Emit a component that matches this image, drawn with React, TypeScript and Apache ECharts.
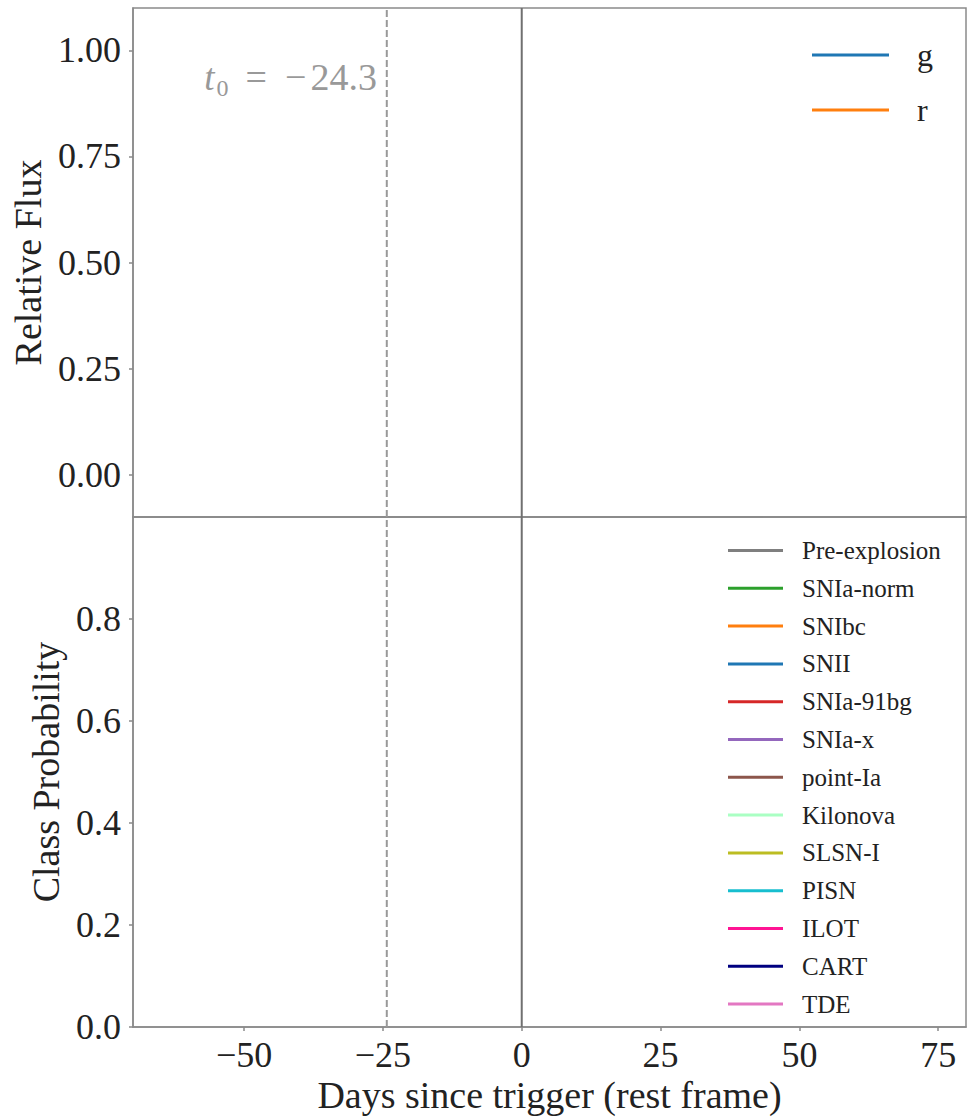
import React, { useEffect, useRef } from "react";
import * as echarts from "echarts";

// ---- data ----
const bandNames = ["g", "r"];
const bandColors = ["#1f77b4", "#ff7f0e"];
const classNames = [
  "Pre-explosion", "SNIa-norm", "SNIbc", "SNII", "SNIa-91bg", "SNIa-x",
  "point-Ia", "Kilonova", "SLSN-I", "PISN", "ILOT", "CART", "TDE",
];
const classColors = [
  "#7f7f7f", "#2ca02c", "#ff7f0e", "#1f77b4", "#d62728", "#9467bd",
  "#8c564b", "#aaffc3", "#bcbd22", "#17becf", "#ff1493", "#000080", "#e377c2",
];
const dayRange = [-70, 80];
const dayTicks = [-50, -25, 0, 25, 50, 75];
const fluxRange = [-0.1, 1.1];
const fluxTicks = [0, 0.25, 0.5, 0.75, 1.0];
const probRange = [0, 1];
const probTicks = [0, 0.2, 0.4, 0.6, 0.8];
const t0 = -24.3;
const triggerDay = 0;

const FONT = "Liberation Serif";
const FRAME = "#8a8a8a";

export default function App() {
  const ref = useRef<HTMLDivElement>(null);
  useEffect(() => {
    if (!ref.current) return;
    const chart = echarts.init(ref.current, undefined, { renderer: "svg" });
    const fmtDay = (v: number) => (v < 0 ? "\u2212" + Math.abs(v) : String(v));
    const vline = (name: string, x: number, range: number[], idx: number, dashed: boolean) => ({
      name,
      type: "line",
      xAxisIndex: idx,
      yAxisIndex: idx,
      data: range.map((y) => [x, y]),
      symbol: "none",
      silent: true,
      lineStyle: dashed
        ? { color: "#999999", width: 2, type: [7, 3] }
        : { color: "#707070", width: 2 },
      z: 1,
    });
    const option: any = {
      animation: false,
      textStyle: { fontFamily: FONT },
      grid: [
        { left: 133, right: 7, top: 8, height: 509, show: true, borderColor: FRAME, borderWidth: 1.5 },
        { left: 133, right: 7, top: 517, height: 510, show: true, borderColor: FRAME, borderWidth: 1.5 },
      ],
      xAxis: [
        {
          gridIndex: 0, type: "value", min: dayRange[0], max: dayRange[1],
          axisLabel: { show: false }, axisTick: { show: false }, splitLine: { show: false },
          axisLine: { onZero: false, lineStyle: { color: FRAME, width: 1.5 } },
        },
        {
          gridIndex: 1, type: "value", min: dayRange[0], max: dayRange[1],
          splitLine: { show: false },
          axisLine: { onZero: false, lineStyle: { color: FRAME, width: 1.5 } },
          axisTick: { customValues: dayTicks, length: 4, lineStyle: { color: FRAME, width: 1.5 } },
          axisLabel: {
            customValues: dayTicks, formatter: fmtDay, color: "#222", fontSize: 36,
            fontFamily: FONT, margin: 10,
          },
          name: "Days since trigger (rest frame)", nameLocation: "middle", nameGap: 49,
          nameTextStyle: { fontSize: 38, color: "#222", fontFamily: FONT },
        },
      ],
      yAxis: [
        {
          gridIndex: 0, type: "value", min: fluxRange[0], max: fluxRange[1],
          splitLine: { show: false },
          axisLine: { onZero: false, lineStyle: { color: FRAME, width: 1.5 } },
          axisTick: { customValues: fluxTicks, length: 4, lineStyle: { color: FRAME, width: 1.5 } },
          axisLabel: {
            customValues: fluxTicks, formatter: (v: number) => v.toFixed(2), color: "#222",
            fontSize: 36, fontFamily: FONT, margin: 12,
          },
          name: "Relative Flux", nameLocation: "middle", nameGap: 78,
          nameTextStyle: { fontSize: 38, color: "#222", fontFamily: FONT },
        },
        {
          gridIndex: 1, type: "value", min: probRange[0], max: probRange[1],
          splitLine: { show: false },
          axisLine: { onZero: false, lineStyle: { color: FRAME, width: 1.5 } },
          axisTick: { customValues: probTicks, length: 4, lineStyle: { color: FRAME, width: 1.5 } },
          axisLabel: {
            customValues: probTicks, formatter: (v: number) => v.toFixed(1), color: "#222",
            fontSize: 36, fontFamily: FONT, margin: 12,
          },
          name: "Class Probability", nameLocation: "middle", nameGap: 57,
          nameTextStyle: { fontSize: 38, color: "#222", fontFamily: FONT },
        },
      ],
      legend: [
        {
          data: bandNames, orient: "vertical", left: 812, top: 39, padding: 0, icon: "rect",
          itemWidth: 77, itemHeight: 3, itemGap: 23, selectedMode: false,
          textStyle: { fontSize: 32, lineHeight: 32, color: "#222", fontFamily: FONT, padding: [0, 0, 0, 23] },
        },
        {
          data: classNames, orient: "vertical", left: 728, top: 538, padding: 0, icon: "rect",
          itemWidth: 55, itemHeight: 3, itemGap: 12.8, selectedMode: false,
          textStyle: { fontSize: 25, lineHeight: 25, color: "#222", fontFamily: FONT, padding: [0, 0, 0, 14] },
        },
      ],
      graphic: [
        {
          type: "text", right: 973 - 377, top: 58,
          style: {
            text: "{it|t}{sub|0}{eq|=}{m|\u2212}{n|24.3}",
            fill: "#999999",
            rich: {
              it: { fontSize: 37, fontStyle: "italic", fontFamily: FONT, fill: "#999999", verticalAlign: "bottom", padding: [0, 0, 4, 0] },
              sub: { fontSize: 24, fontFamily: FONT, fill: "#999999", verticalAlign: "bottom", padding: [0, 0, 0, 2] },
              eq: { fontSize: 38, fontFamily: FONT, fill: "#999999", verticalAlign: "bottom", padding: [0, 18, 4, 17] },
              m: { fontSize: 38, fontFamily: FONT, fill: "#999999", verticalAlign: "bottom", padding: [0, 4, 4, 0] },
              n: { fontSize: 38, fontFamily: FONT, fill: "#999999", verticalAlign: "bottom", padding: [0, 0, 4, 0] },
            },
          },
        },
      ],
      series: [
        ...bandNames.map((n, i) => ({
          name: n, type: "line", xAxisIndex: 0, yAxisIndex: 0, data: [],
          color: bandColors[i], lineStyle: { color: bandColors[i], width: 3 }, symbol: "none",
        })),
        ...classNames.map((n, i) => ({
          name: n, type: "line", xAxisIndex: 1, yAxisIndex: 1, data: [],
          color: classColors[i], lineStyle: { color: classColors[i], width: 3 }, symbol: "none",
        })),
        vline("t0-top", t0, fluxRange, 0, true),
        vline("trigger-top", triggerDay, fluxRange, 0, false),
        vline("t0-bottom", t0, probRange, 1, true),
        vline("trigger-bottom", triggerDay, probRange, 1, false),
      ],
    };
    chart.setOption(option);
    return () => chart.dispose();
  }, []);
  return (
    <div
      ref={ref}
      style={{ position: "fixed", left: 0, top: 0, width: 973, height: 1117, background: "#ffffff" }}
    />
  );
}
